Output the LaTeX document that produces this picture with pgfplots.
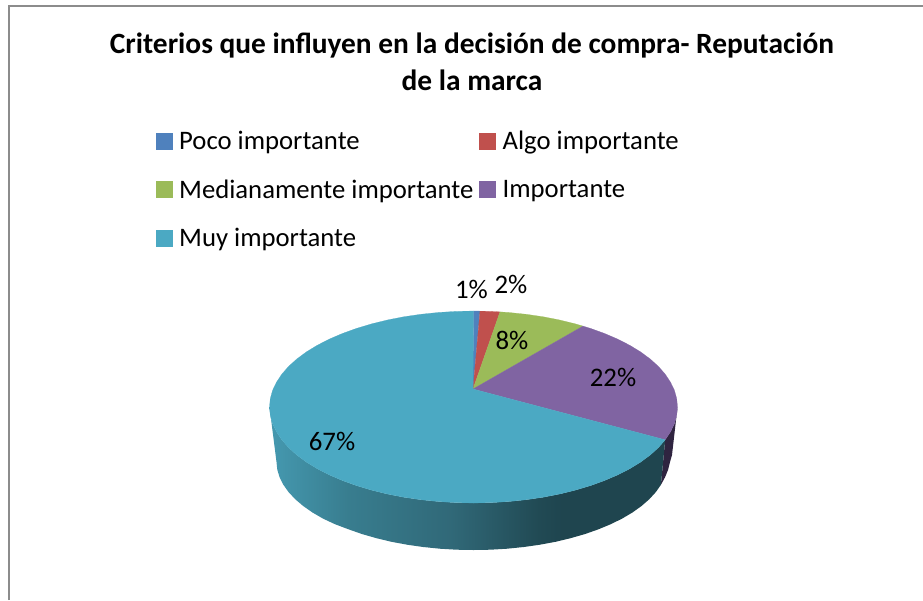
\documentclass[border=0pt]{standalone}
\usepackage{fontspec}
\setmainfont{Carlito}
\usepackage{pgfplots}
\pgfplotsset{compat=1.18}
\definecolor{cBlue}{HTML}{4F81BD}
\definecolor{cRed}{HTML}{C0504D}
\definecolor{cGreen}{HTML}{9BBB59}
\definecolor{cPurple}{HTML}{8064A2}
\definecolor{cTeal}{HTML}{4BA9C3}
\definecolor{cPurpleSide}{HTML}{2F2440}
\definecolor{cFrame}{HTML}{8C8C8C}
\pgfdeclarehorizontalshading{sideteal}{100bp}{
 rgb(0bp)=(0.27,0.60,0.69);
 rgb(25bp)=(0.27,0.60,0.69);
 rgb(35bp)=(0.22,0.49,0.56);
 rgb(48bp)=(0.19,0.41,0.47);
 rgb(59bp)=(0.13,0.29,0.33);
 rgb(62bp)=(0.12,0.27,0.31);
 rgb(75bp)=(0.12,0.27,0.31);
 rgb(100bp)=(0.12,0.27,0.31)}
\begin{document}
\begin{tikzpicture}
\begin{axis}[
  scale only axis, width=923pt, height=600pt,
  xmin=0, xmax=923, ymin=0, ymax=600, y dir=reverse,
  hide axis, no markers, clip=true,
  legend columns=2,
  legend cell align=left,
  legend style={at={(axis cs:156,129)},anchor=north west,draw=none,fill=none,
    font=\fontsize{26.7}{29}\selectfont,inner sep=0pt,outer sep=0pt,
    /tikz/row sep=24.5pt,
    /tikz/every odd column/.append style={column sep=5pt},
    /tikz/every even column/.append style={column sep=4pt}},
  legend image code/.code={\fill[#1] (0pt,-8pt) rectangle (16pt,8pt);},
]
% page
\addplot[forget plot,draw=none,fill=white] coordinates {(0,0)(923,0)(923,600)(0,600)} -- cycle;
% frame
\addplot[forget plot,draw=cFrame,line width=1.5pt] coordinates {(9,600) (9,6) (923,6)};
% sides
\addplot[forget plot,draw=none,fill=cPurpleSide] coordinates {
(665.2,439.8)(670.5,431.8)(674.4,423.7)(676.7,415.4)(677.5,407)(672,455)(670,462)(668,470)(665,477.3)(660.9,484.8)};
\addplot[forget plot,draw=none,shade,shading=sideteal] coordinates {
(269.5,407)(270.3,415.4)(272.6,423.7)(276.5,431.8)(281.8,439.8)(288.6,447.6)(296.8,455)(306.4,462.1)(317.2,468.7)(329.3,474.9)(342.4,480.5)(356.5,485.6)(371.5,490.1)(387.3,494)(403.7,497.2)(420.7,499.7)(438.1,501.5)(455.7,502.6)(473.5,503)(491.3,502.6)(508.9,501.5)(526.3,499.7)(543.3,497.2)(559.7,494)(575.5,490.1)(590.5,485.6)(604.6,480.5)(617.7,474.9)(629.8,468.7)(640.6,462.1)(650.2,455)(658.4,447.6)(665.2,439.8)
(660.9,484.8)(655.8,492.1)(649.3,499.2)(641.5,506)(632.4,512.5)(622.1,518.6)(610.7,524.2)(598.2,529.4)(584.8,534.1)(570.5,538.2)(555.5,541.8)(539.8,544.7)(523.7,547)(507.2,548.7)(490.4,549.7)(473.5,550)(456.6,549.7)(439.8,548.7)(423.3,547)(407.2,544.7)(391.5,541.8)(376.5,538.2)(362.2,534.1)(348.8,529.4)(335,524.2)(323,518.6)(312.5,512.5)(303.2,506)(295.2,499.2)(288.6,492.1)(283.4,484.8)(279.6,477.3)(277.3,469.7)(276.5,462)};
% top slices
\addplot[fill=cBlue,draw=cBlue,line width=0.2pt] coordinates {(473,389)(473.5,311)(480,311.1)} -- cycle;
\addlegendentry{Poco importante}
\addplot[fill=cRed,draw=cRed,line width=0.2pt] coordinates {(473,389)(480,311.1)(491.3,311.4)(500,311.9)} -- cycle;
\addlegendentry{Algo importante}
\addplot[fill=cGreen,draw=cGreen,line width=0.2pt] coordinates {(473,389)(500,311.9)(508.9,312.5)(526.3,314.3)(543.3,316.8)(559.7,320)(575.5,323.9)(583,326.1)} -- cycle;
\addlegendentry{Medianamente importante}
\addplot[fill=cPurple,draw=cPurple,line width=0.2pt] coordinates {(473,389)(583,326.1)(590.5,328.4)(604.6,333.5)(617.7,339.1)(629.8,345.3)(640.6,351.9)(650.2,359)(658.4,366.4)(665.2,374.2)(670.5,382.2)(674.4,390.3)(676.7,398.6)(677.5,407)(676.7,415.4)(674.4,423.7)(670.5,431.8)(665.2,439.8)} -- cycle;
\addlegendentry{Importante}
\addplot[fill=cTeal,draw=cTeal,line width=0.2pt] coordinates {(473,389)(665.2,439.8)(658.4,447.6)(650.2,455)(640.6,462.1)(629.8,468.7)(617.7,474.9)(604.6,480.5)(590.5,485.6)(575.5,490.1)(559.7,494)(543.3,497.2)(526.3,499.7)(508.9,501.5)(491.3,502.6)(473.5,503)(455.7,502.6)(438.1,501.5)(420.7,499.7)(403.7,497.2)(387.3,494)(371.5,490.1)(356.5,485.6)(342.4,480.5)(329.3,474.9)(317.2,468.7)(306.4,462.1)(296.8,455)(288.6,447.6)(281.8,439.8)(276.5,431.8)(272.6,423.7)(270.3,415.4)(269.5,407)(270.3,398.6)(272.6,390.3)(276.5,382.2)(281.8,374.2)(288.6,366.4)(296.8,359)(306.4,351.9)(317.2,345.3)(329.3,339.1)(342.4,333.5)(356.5,328.4)(371.5,323.9)(387.3,320)(403.7,316.8)(420.7,314.3)(438.1,312.5)(455.7,311.4)(473.5,311)} -- cycle;
\addlegendentry{Muy importante}
% title
\node[anchor=base,font=\fontsize{29.4}{34}\selectfont\bfseries] at (axis cs:472,53) {Criterios que influyen en la decisión de compra- Reputación};
\node[anchor=base,font=\fontsize{29.4}{34}\selectfont\bfseries] at (axis cs:472,90) {de la marca};
% data labels
\node[font=\fontsize{26.8}{29}\selectfont] at (axis cs:471.5,289) {1\%};
\node[font=\fontsize{26.8}{29}\selectfont] at (axis cs:511,284) {2\%};
\node[font=\fontsize{26.8}{29}\selectfont] at (axis cs:512,340) {8\%};
\node[font=\fontsize{26.8}{29}\selectfont] at (axis cs:613,377) {22\%};
\node[font=\fontsize{26.8}{29}\selectfont] at (axis cs:332,441) {67\%};
\end{axis}
\end{tikzpicture}
\end{document}
